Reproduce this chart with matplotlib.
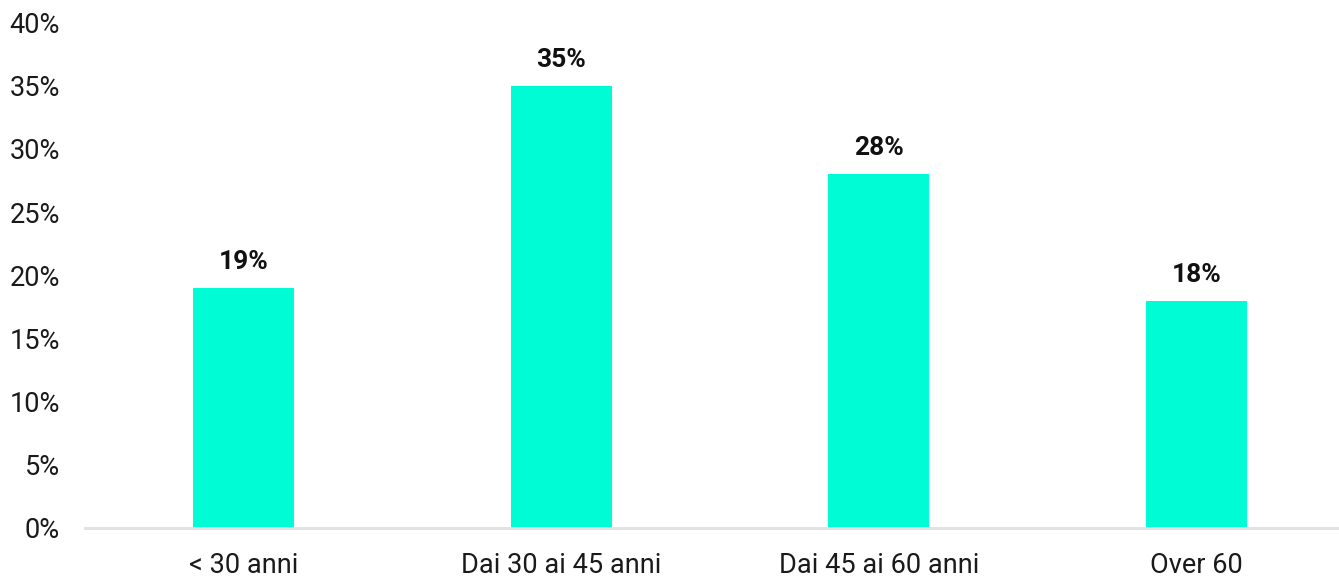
import numpy as np
import matplotlib.pyplot as plt
from matplotlib.ticker import FuncFormatter

plt.rcParams['font.family'] = ['Roboto', 'DejaVu Sans']

categories = ['< 30 anni', 'Dai 30 ai 45 anni', 'Dai 45 ai 60 anni', 'Over 60']
shares = [19, 35, 28, 18]  # percent

bar_color = '#00fcd4'

fig = plt.figure(figsize=(13.39, 5.76), dpi=100)
ax = fig.add_axes([85 / 1339, 48 / 576, 1270 / 1339, 505.5 / 576])

x = np.arange(len(categories))
bars = ax.bar(x, shares, width=0.318, color=bar_color, zorder=2)

for rect, v in zip(bars, shares):
    ax.annotate(f'{v}%', (rect.get_x() + rect.get_width() / 2, rect.get_height()),
                xytext=(0, 10), textcoords='offset points',
                ha='center', va='bottom', fontsize=19, fontweight='bold',
                color='#111111')

ax.set_xlim(-0.5, len(categories) - 0.5)
ax.set_ylim(0, 40)
ax.set_yticks(np.arange(0, 41, 5))
ax.yaxis.set_major_formatter(FuncFormatter(lambda v, _: f'{v:.0f}%'))
ax.set_xticks(x)
ax.set_xticklabels(categories)

ax.tick_params(axis='both', length=0, labelsize=19.5, colors='#1a1a1a')
ax.tick_params(axis='y', pad=18)
ax.tick_params(axis='x', pad=17)

for side in ['top', 'right', 'left']:
    ax.spines[side].set_visible(False)
ax.spines['bottom'].set_color('#e0e0e0')
ax.spines['bottom'].set_linewidth(2)

fig.savefig('out.png', dpi=100)
